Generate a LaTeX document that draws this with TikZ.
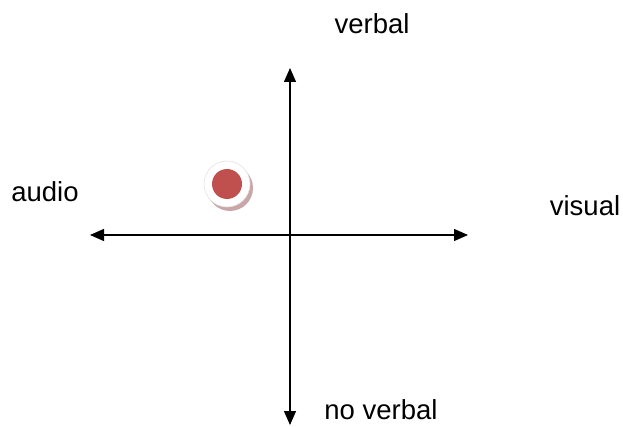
\documentclass[tikz,border=0pt]{standalone}
\usepackage{fontspec}
\setmainfont{Liberation Sans}
\usepackage{tikz}
\usetikzlibrary{arrows.meta,calc}
\definecolor{DotRed}{HTML}{C0504D}
\definecolor{DotShade}{HTML}{C9A7A9}
\definecolor{RingGray}{HTML}{E2E2E2}
\tikzset{
  axisline/.style={black, line width=1.3pt, {Triangle[length=14pt,width=12pt]}-{Triangle[length=14pt,width=12pt]}},
  axislabel/.style={anchor=base, font=\fontsize{27.5}{32}\selectfont, text=black, inner sep=0pt}
}

\begin{document}
\begin{tikzpicture}[x=1pt, y=-1pt]
  \useasboundingbox (0,0) rectangle (623,427);
  % axes
  \coordinate (west) at (90,235);
  \coordinate (east) at (468,235);
  \coordinate (north) at (290,68);
  \coordinate (south) at (290,425);
  \draw[axisline] (west) -- (east);
  \draw[axisline] (north) -- (south);
  % labels
  \node[axislabel] (verbal) at (372,34) {verbal};
  \node[axislabel] (noverbal) at (381,419) {no verbal};
  \node[axislabel] (audio) at (45,202) {audio};
  \node[axislabel] (visual) at (585,216) {visual};
  % marker
  \coordinate (dot) at (227,184);
  \fill[DotShade] ($(dot)+(3,4)$) circle (23);
  \fill[white, draw=RingGray, line width=0.6pt] (dot) circle (23);
  \fill[DotRed] (dot) circle (15);
\end{tikzpicture}
\end{document}
